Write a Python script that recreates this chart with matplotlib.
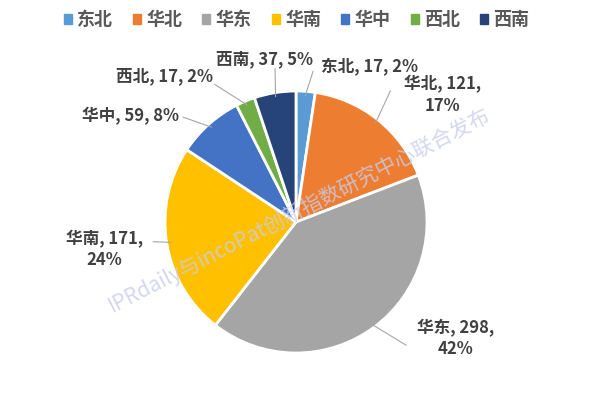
import matplotlib.pyplot as plt
import numpy as np

plt.rcParams['font.family'] = ['Noto Sans CJK SC', 'DejaVu Sans']

regions = ['东北', '华北', '华东', '华南', '华中', '西北', '西南']
counts = [17, 121, 298, 171, 59, 17, 37]
percents = [2, 17, 42, 24, 8, 2, 5]
colors = ['#5B9BD5', '#ED7D31', '#A5A5A5', '#FFC000', '#4472C4', '#70AD47', '#264478']

# label text positions in pie units (radius = 1)
label_pos = [(0.56, 1.18), (1.12, 0.97), (1.22, -0.89), (-1.46, -0.21),
             (-1.26, 0.81), (-1.00, 1.11), (-0.24, 1.24)]
two_line = [False, True, True, True, False, False, False]
# leader line end points (where line meets the label)
line_end = [(0.13, 1.15), (0.72, 1.00), (0.84, -0.94), (-1.09, -0.15),
            (-0.86, 0.80), (-0.62, 1.05), (-0.16, 1.17)]

fig = plt.figure(figsize=(5.93, 3.96), dpi=100)
ax = fig.add_axes([(296 - 131 * 1.7) / 593, 1 - (222 + 131 * 1.7) / 396,
                   131 * 3.4 / 593, 131 * 3.4 / 396])
wedges, _ = ax.pie(counts, colors=colors, startangle=90, counterclock=False,
                   wedgeprops=dict(edgecolor='white', linewidth=2))
ax.set_xlim(-1.7, 1.7)
ax.set_ylim(-1.7, 1.7)
ax.set_aspect('auto')

for w, name, c, p, pos, tl, le in zip(wedges, regions, counts, percents,
                                      label_pos, two_line, line_end):
    txt = f'{name}, {c},\n{p}%' if tl else f'{name}, {c}, {p}%'
    mid = np.deg2rad((w.theta1 + w.theta2) / 2)
    ex, ey = np.cos(mid) * 0.97, np.sin(mid) * 0.97
    ax.plot([ex, le[0]], [ey, le[1]], color='#a6a6a6', lw=0.8, zorder=1)
    ax.text(pos[0], pos[1], txt, ha='center', va='center', fontsize=12,
            fontweight='bold', color='#404040', linespacing=1.25)

fig.text(0.505, 0.47, 'IPRdaily与incoPat创新指数研究中心联合发布',
         rotation=27, ha='center', va='center', fontsize=15,
         color='#c9cdea', alpha=0.8)

handles = [plt.Rectangle((0, 0), 1, 1, color=col) for col in colors]
fig.legend(handles, regions, loc='upper center', bbox_to_anchor=(0.5, 1.015),
           ncol=7, frameon=False, handlelength=0.45,
           handleheight=0.45, handletextpad=0.3, columnspacing=1.1,
           labelcolor='#595959', prop={'weight': 'bold', 'size': 13})

fig.savefig('out.png', dpi=100, facecolor='white')
